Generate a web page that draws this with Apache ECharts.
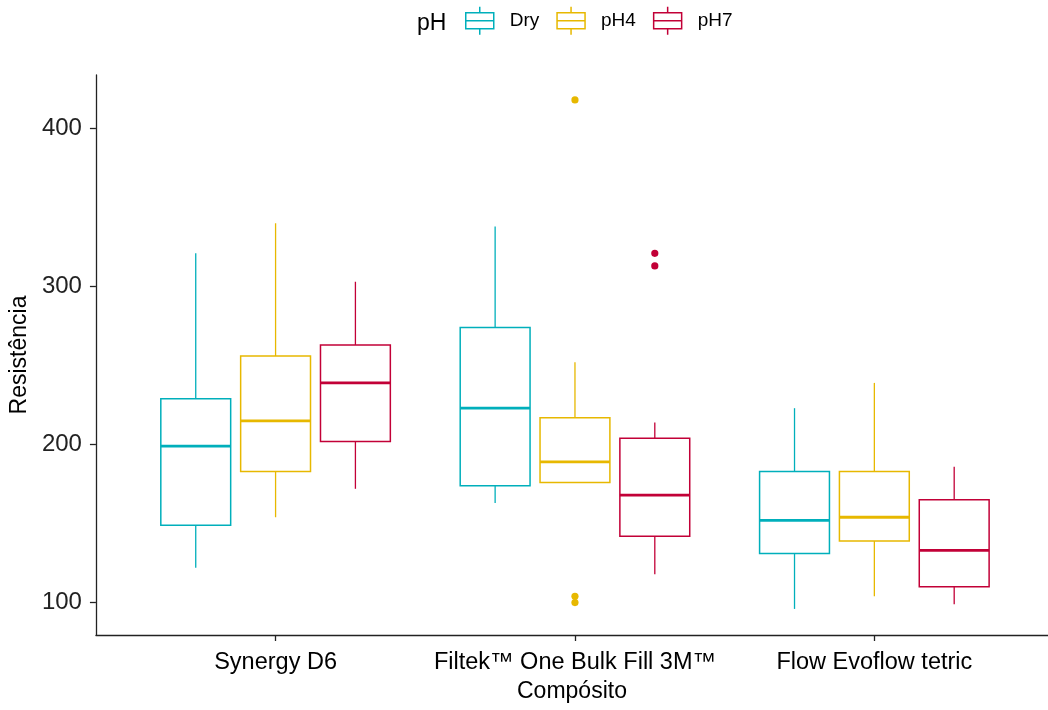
<!DOCTYPE html>
<html>
<head>
<meta charset="utf-8">
<script src="https://cdn.jsdelivr.net/npm/echarts@6/dist/echarts.min.js"></script>
<style>
    html, body { margin: 0; padding: 0; background: #fff; }
    #chart { width: 1048px; height: 710px; }
</style>
</head>
<body>
<div id="chart"></div>
<script>
const categories = ["Synergy D6", "Filtek™ One Bulk Fill 3M™", "Flow Evoflow tetric"];
const groups = ["Dry", "pH4", "pH7"];
const yTicks = [100, 200, 300, 400];

// [min, Q1, mediana, Q3, max] por compósito
const dryBoxes = [
    [122, 149, 199, 229, 321],
    [163, 174, 223, 274, 338],
    [96, 131, 152, 183, 223]
];
const ph4Boxes = [
    [154, 183, 215, 256, 340],
    [176, 176, 189, 217, 252],
    [104, 139, 154, 183, 239]
];
const ph7Boxes = [
    [172, 202, 239, 263, 303],
    [118, 142, 168, 204, 214],
    [99, 110, 133, 165, 186]
];

// outliers: [índice do compósito, valor]
const dryOutliers = [];
const ph4Outliers = [[2, 418], [2, 104], [2, 100]];
const ph7Outliers = [[2, 321], [2, 313]];

const colors = ["#00AFBB", "#E7B800", "#C20037"];
const fontFamily = "'Liberation Sans', Arial, sans-serif";
const dodge = 0.8 / 3;
const boxWidth = 0.7 / 3;

const boxData = [dryBoxes, ph4Boxes, ph7Boxes];
const outlierData = [dryOutliers, ph4Outliers, ph7Outliers];

function boxRenderer(gi) {
    const color = colors[gi];
    return function (params, api) {
        const xc = api.value(0) + (gi - 1) * dodge;
        const lo = api.coord([xc, api.value(1)]);
        const q1 = api.coord([xc, api.value(2)]);
        const md = api.coord([xc, api.value(3)]);
        const q3 = api.coord([xc, api.value(4)]);
        const hi = api.coord([xc, api.value(5)]);
        const half = api.size([boxWidth, 0])[0] / 2;
        return {
            type: "group",
            children: [
                { type: "line", shape: { x1: lo[0], y1: lo[1], x2: q1[0], y2: q1[1] }, style: { stroke: color, lineWidth: 1.3 } },
                { type: "line", shape: { x1: q3[0], y1: q3[1], x2: hi[0], y2: hi[1] }, style: { stroke: color, lineWidth: 1.3 } },
                { type: "rect", shape: { x: q1[0] - half, y: q3[1], width: half * 2, height: q1[1] - q3[1] }, style: { fill: "#fff", stroke: color, lineWidth: 1.5 } },
                { type: "line", shape: { x1: md[0] - half, y1: md[1], x2: md[0] + half, y2: md[1] }, style: { stroke: color, lineWidth: 2.8 } }
            ]
        };
    };
}

function outlierRenderer(gi) {
    const color = colors[gi];
    return function (params, api) {
        const p = api.coord([api.value(0) + (gi - 1) * dodge, api.value(1)]);
        return { type: "circle", shape: { cx: p[0], cy: p[1], r: 3.6 }, style: { fill: color } };
    };
}

let series = [];
for (let gi = 0; gi < groups.length; gi++) {
    series.push({
        name: groups[gi],
        type: "custom",
        renderItem: boxRenderer(gi),
        itemStyle: { color: colors[gi] },
        encode: { x: 0, y: [1, 2, 3, 4, 5] },
        data: boxData[gi].map((b, ci) => [ci + 1, ...b]),
        z: 2
    });
    series.push({
        name: groups[gi],
        type: "custom",
        renderItem: outlierRenderer(gi),
        itemStyle: { color: colors[gi] },
        encode: { x: 0, y: 1 },
        data: outlierData[gi],
        z: 3
    });
}

const legendIcon = "path://M0,6L28,6L28,22L0,22Z M0,14L28,14 M14,0L14,6 M14,22L14,28";

const option = {
    animation: false,
    textStyle: { fontFamily },
    graphic: [{
        type: "text",
        left: 417,
        top: 12,
        style: { text: "pH", fontSize: 23, fontFamily, fill: "#000" }
    }],
    legend: {
        top: 1,
        left: 460,
        itemWidth: 28,
        itemHeight: 28,
        itemGap: 17,
        textStyle: { fontSize: 19, color: "#000", fontFamily, padding: [2, 0, 0, 11] },
        data: groups.map((g, i) => ({
            name: g,
            icon: legendIcon,
            itemStyle: { color: "transparent", borderColor: colors[i], borderWidth: 1.5 }
        }))
    },
    grid: { left: 95, right: 0, top: 75, bottom: 75 },
    xAxis: {
        type: "value",
        min: 0.4,
        max: 3.58,
        name: "Compósito",
        nameLocation: "middle",
        nameGap: 44,
        nameTextStyle: { fontSize: 23, color: "#000", fontFamily },
        axisLine: { show: true, lineStyle: { color: "#222", width: 1.3 } },
        axisTick: { show: true, customValues: [1, 2, 3], length: 6, lineStyle: { color: "#222", width: 1.3 } },
        axisLabel: {
            customValues: [1, 2, 3],
            formatter: v => categories[Math.round(v) - 1] || "",
            fontSize: 23.5, color: "#000", margin: 16, fontFamily
        },
        splitLine: { show: false }
    },
    yAxis: {
        type: "value",
        min: 79.5,
        max: 433.8,
        name: "Resistência",
        nameLocation: "middle",
        nameRotate: 90,
        nameGap: 61,
        nameTextStyle: { fontSize: 23, color: "#000", fontFamily },
        axisLine: { show: true, lineStyle: { color: "#222", width: 1.3 } },
        axisTick: { show: true, customValues: yTicks, length: 6, lineStyle: { color: "#222", width: 1.3 } },
        axisLabel: { customValues: yTicks, fontSize: 24, color: "#222", margin: 14, fontFamily },
        splitLine: { show: false }
    },
    series
};

const chart = echarts.init(document.getElementById("chart"));
chart.setOption(option);
</script>
</body>
</html>
